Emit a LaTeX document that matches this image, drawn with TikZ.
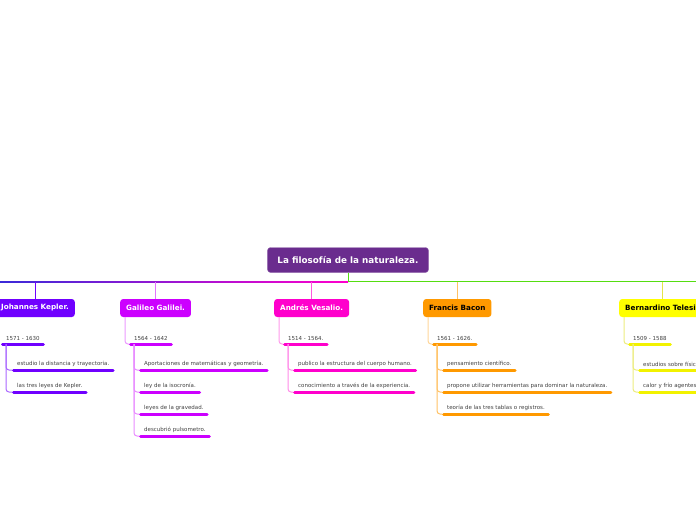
\documentclass[tikz,border=0pt]{standalone}
\usepackage{fontspec}
\setmainfont{DejaVu Sans}
\usepackage{tikz}
\usetikzlibrary{positioning}

\definecolor{titlecol}{HTML}{6A2C8E}
\definecolor{trunkblue}{HTML}{3A2AD8}
\definecolor{trunkgreen}{HTML}{55DD11}
\definecolor{keplercol}{HTML}{7000FF}
\definecolor{galileocol}{HTML}{CC00FF}
\definecolor{vesaliocol}{HTML}{FF00CC}
\definecolor{baconcol}{HTML}{FF9900}
\definecolor{telesiocol}{HTML}{FFFF00}

\tikzset{
  title/.style={fill=titlecol, draw=titlecol!70!white, rounded corners=3pt, text=white,
    font=\bfseries\fontsize{8.8}{10}\selectfont, inner xsep=10pt, minimum height=25pt},
  branch/.style={rounded corners=3pt, font=\bfseries\fontsize{7.2}{8}\selectfont,
    inner xsep=6pt, minimum height=18pt},
  item/.style={anchor=south west, font=\fontsize{5.5}{6.5}\selectfont, text=black!75,
    inner xsep=5pt, inner ysep=3pt},
  bar/.style={line width=3pt, line cap=round, shorten >=1.5pt, shorten <=1.5pt},
  link/.style={line width=1pt, rounded corners=3pt},
}

\begin{document}
\begin{tikzpicture}[x=1pt,y=-1pt]
  \useasboundingbox (0,0) rectangle (696,520);

  % central topic
  \node[title] (title) at (348,260) {La filosofía de la naturaleza.};
  \coordinate (trunkL) at (0,281.5);
  \coordinate (trunkR) at (696,281.5);
  \coordinate (trunkM) at (348.5,281.5);

  % trunk line
  \shade[left color=trunkblue, middle color=galileocol, right color=vesaliocol]
    (0,281) rectangle (348,282);
  \draw[trunkgreen, line width=1.6pt] (trunkM) -- (trunkR);
  \draw[trunkgreen, line width=1.6pt] (title.south -| trunkM) -- (trunkM);

  % branches
  \node[branch, fill=keplercol, text=white, anchor=east] (kepler) at (75,308) {Johannes Kepler.};
  \node[branch, fill=galileocol, text=white, anchor=west] (galileo) at (120,308) {Galileo Galilei.};
  \node[branch, fill=vesaliocol, text=white, anchor=west] (vesalio) at (274,308) {Andrés Vesalio.};
  \node[branch, fill=baconcol, text=black, anchor=west] (bacon) at (423,308) {Francis Bacon};
  \node[branch, fill=telesiocol, text=black, anchor=west] (telesio) at (619,308) {Bernardino Telesio};

  \draw[link, keplercol] ([xshift=-39.5pt]kepler.north east) -- ([xshift=-39.5pt]kepler.north east |- trunkL);
  \draw[link, galileocol!55!white] (galileo.north) -- (galileo.north |- trunkL);
  \draw[link, vesaliocol!65!white] (vesalio.north) -- (vesalio.north |- trunkL);
  \draw[link, baconcol!60!white] (bacon.north) -- (bacon.north |- trunkL);
  \draw[link, telesiocol!85!black!70!white] (telesio.north) -- (telesio.north |- trunkL);

  % Kepler
  \node[item] (kd) at (1,344) {1571 - 1630};
  \node[item] (k1) at (12,370) {estudio la distancia y trayectoria.};
  \node[item] (k2) at (12,392) {las tres leyes de Kepler.};
  \draw[bar, keplercol] (kd.south west) -- (kd.south east);
  \draw[bar, keplercol] (k1.south west) -- (k1.south east);
  \draw[bar, keplercol] (k2.south west) -- (k2.south east);
  \draw[link, keplercol!60!white] ([xshift=5pt]kd.south west) |- (k1.south west);
  \draw[link, keplercol!60!white] ([xshift=5pt]kd.south west) |- (k2.south west);

  % Galileo
  \node[item] (gd) at (129,344) {1564 - 1642};
  \node[item] (g1) at (139,370) {Aportaciones de matemáticas y geometría.};
  \node[item] (g2) at (139,392) {ley de la isocronía.};
  \node[item] (g3) at (139,414) {leyes de la gravedad.};
  \node[item] (g4) at (139,436) {descubrió pulsometro.};
  \draw[link, galileocol!40!white] ([xshift=5pt]galileo.south west) |- (gd.south west);
  \foreach \n in {gd,g1,g2,g3,g4}
    \draw[bar, galileocol] (\n.south west) -- (\n.south east);
  \foreach \n in {g1,g2,g3,g4}
    \draw[link, galileocol!45!white] ([xshift=5pt]gd.south west) |- (\n.south west);

  % Vesalio
  \node[item] (vd) at (283,344) {1514 - 1564.};
  \node[item] (v1) at (293,370) {publico la estructura del cuerpo humano.};
  \node[item] (v2) at (293,392) {conocimiento a través de la experiencia.};
  \draw[link, vesaliocol!40!white] ([xshift=5pt]vesalio.south west) |- (vd.south west);
  \foreach \n in {vd,v1,v2}
    \draw[bar, vesaliocol] (\n.south west) -- (\n.south east);
  \foreach \n in {v1,v2}
    \draw[link, vesaliocol!45!white] ([xshift=5pt]vd.south west) |- (\n.south west);

  % Bacon
  \node[item] (bd) at (432,344) {1561 - 1626.};
  \node[item] (b1) at (442,370) {pensamiento científico.};
  \node[item] (b2) at (442,392) {propone utilizar herramientas para dominar la naturaleza.};
  \node[item] (b3) at (442,414) {teoría de las tres tablas o registros.};
  \draw[link, baconcol!40!white] ([xshift=5pt]bacon.south west) |- (bd.south west);
  \foreach \n in {bd,b1,b2,b3}
    \draw[bar, baconcol] (\n.south west) -- (\n.south east);
  \foreach \n in {b1,b2,b3}
    \draw[link, baconcol!60!white] ([xshift=5pt]bd.south west) |- (\n.south west);

  % Telesio
  \node[item] (td) at (628,344) {1509 - 1588};
  \node[item] (t1) at (638,370) {estudios sobre física};
  \node[item] (t2) at (638,392) {calor y frío agentes};
  \draw[link, telesiocol!85!black!50!white] ([xshift=5pt]telesio.south west) |- (td.south west);
  \foreach \n in {td,t1,t2}
    \draw[bar, telesiocol!95!black] (\n.south west) -- (\n.south east);
  \foreach \n in {t1,t2}
    \draw[link, telesiocol!85!black!50!white] ([xshift=5pt]td.south west) |- (\n.south west);
\end{tikzpicture}
\end{document}
